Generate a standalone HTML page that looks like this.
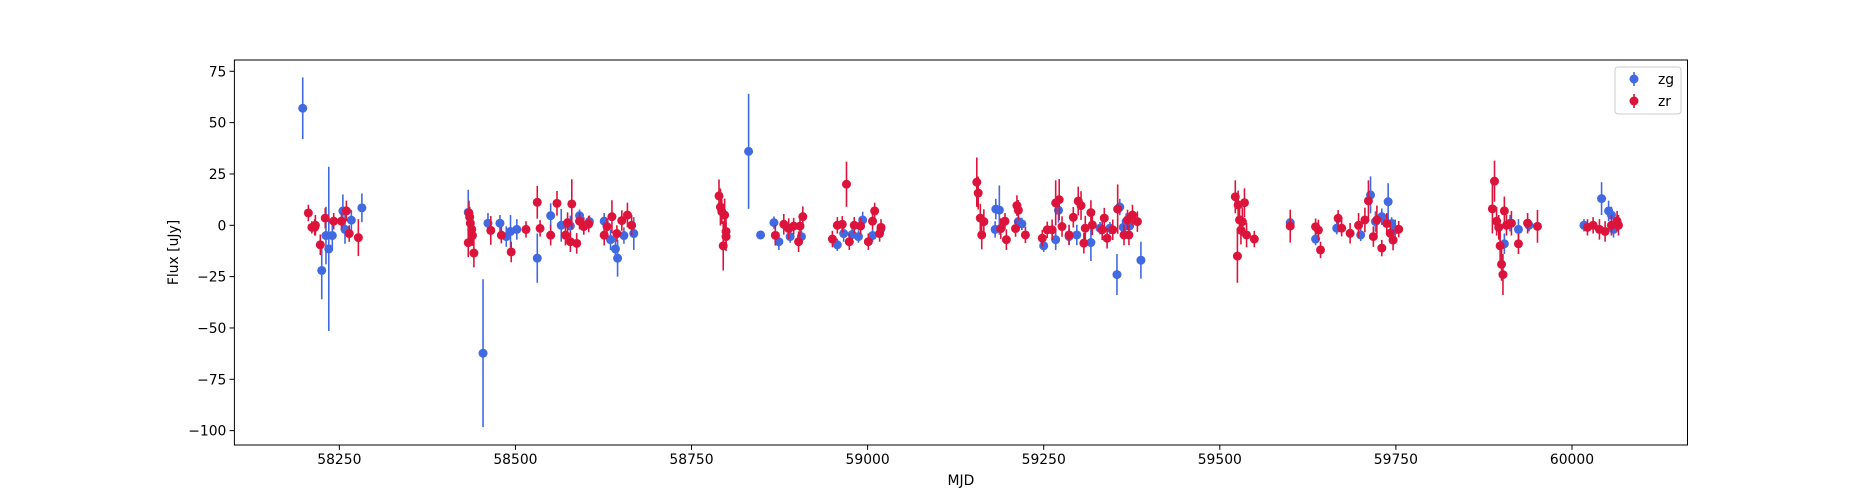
<!DOCTYPE html>
<html><head><meta charset="utf-8">
<style>
html,body{margin:0;padding:0;background:#fff;}
svg{display:block;font-family:"DejaVu Sans","Liberation Sans",sans-serif;}
</style></head>
<body>
<svg id="chart" width="1875" height="500" viewBox="0 0 1875 500" xmlns="http://www.w3.org/2000/svg">
<rect x="0" y="0" width="1875" height="500" fill="#fff"/>
<g id="plot"></g>
</svg>
<script>
const xTicks=[58250,58500,58750,59000,59250,59500,59750,60000];
const yTicks=[75,50,25,0,-25,-50,-75,-100];
const zgMjd=[58198,58225,58231,58235,58240,58255,58258,58267,58282,
58433,58454,58461,58478,58487,58493,58502,58531,58550,58565,58578,58591,58597,58605,58626,58635,58642,58645,58654,58668,
58831,58848,58867,58874,58890,58906,58957,58966,58978,58987,58993,59007,59019,
59181,59182,59187,59214,59219,59250,59267,59271,59286,59297,59317,59330,59344,59354,59358,59363,59367,59372,59388,
59600,59636,59666,59700,59714,59721,59730,59739,59744,59749,
59904,59912,59924,59939,60017,60042,60052,60056,60059,60064];
const zgFlux=[57,-22,-5,-11.5,-5,7,-2,2.5,8.5,
6.3,-62.3,1,1,-5.5,-3,-2,-16,4.7,0,-0.3,4.7,0,1.8,2,-7,-11.5,-16,-5,-4,
36,-4.7,1.3,-8,-5.5,-5.5,-9.5,-4,-4.5,-5.5,2.6,-5,-1.8,
-2,7.9,7.4,1.8,0.7,-10,-7,7.3,-5.5,-4.7,-8.4,-1.4,-1.4,-24,8.9,-1,1.8,-0.3,-17,
1.3,-6.7,-1.4,-4.7,14.8,1.8,4.2,11.5,0.9,-2.2,
-9,1,-2,0,0,13,7,5,-2,1];
const zgErr=[15,14,14,40,6,8,7,5,7,
11,36,5,4,5,8,5,12,6,8,5,3,4,3,4,5,6,9,4,8,
28,2,3,4,3,3,3,4,4,3,4,3,3,
4,5,12,3,3,3,5,6,4,5,9,3,3,10,4,3,4,3,9,
3,3,3,3,9,5,4,9,3,5,
5,4,5,3,3,8,5,4,4,4];
const zrMjd=[58206,58211,58215,58216,58223,58230,58242,58253,58260,58264,58277,
58433,58434,58435,58436,58438,58439,58441,58465,58480,58494,58515,58531,58535,58550,58559,58571,58574,58578,58580,58587,58591,58597,58604,58626,58630,58637,58644,58651,58659,58665,
58789,58791,58793,58795,58797,58799,58799,58869,58881,58888,58895,58902,58904,58908,
58950,58957,58964,58970,58974,58981,58990,59001,59007,59010,59017,59019,
59155,59157,59160,59162,59165,59189,59195,59197,59210,59212,59214,59224,
59248,59255,59262,59267,59272,59276,59286,59292,59299,59303,59307,59309,59317,59319,59333,59336,59340,59348,59355,59364,59369,59371,59376,59383,
59522,59525,59526,59528,59530,59532,59535,59538,59549,59600,59636,59640,59643,
59668,59673,59685,59697,59706,59711,59718,59723,59730,59737,59742,59746,59754,
59887,59890,59893,59896,59898,59900,59902,59904,59907,59914,59924,59937,59951,
60022,60030,60039,60047,60056,60064,60066];
const zrFlux=[6,-1,-1,0,-9.5,3.5,2,2,7,-4,-6,
-8.5,6,4,1,-2,-5,-13.5,-2.5,-4.8,-13,-2,11.2,-1.5,-4.8,10.7,-4.8,1.3,-8,10.4,-8.8,2,-0.6,0.6,-4.8,-0.6,4.2,-4,2.3,5,0,
14.3,8.9,6.6,-10,5,-3,-5.5,-4.9,0.5,-1.6,-0.4,-8,-0.4,4.2,
-6.7,0,0.5,20,-8,0,-0.4,-8,2,7,-4,-1,
21,15.7,3.5,-4.7,1.8,-1.6,2,-7,-1.6,9.6,7.3,-4.7,
-6.3,-2.2,-2.2,10.9,12.5,-0.6,-4.7,3.9,11.8,9.6,-8.7,-1.4,6.2,0.2,-2.2,3.5,-6.3,-2.2,7.9,-4.7,2.6,-4.7,5,1.8,
13.9,-15,9.9,2.6,-2.3,1.8,11,-4.7,-6.7,-0.4,-0.7,-2.3,-12,
3.4,-1.4,-3.9,0,2.6,11.9,-5.5,2.6,-11.1,0.9,-3.9,-7.2,-1.9,
8,21.5,2,-1,-10,-19,-24,7,0,1,-9,1,-0.5,
-1,0,-2,-3,0,2,0];
const zrErr=[4,3,4,5,5,5,4,4,5,4,9,
7,6,5,5,6,5,7,7,4,5,4,8,4,5,6,5,5,5,12,5,4,4,4,5,4,8,4,5,6,5,
8,9,6,12,8,6,7,5,5,5,4,5,5,5,
4,4,4,11,4,4,4,4,4,4,4,4,
12,8,7,7,6,5,4,5,4,5,5,4,
4,4,5,11,10,5,5,5,7,7,5,6,6,5,5,5,5,5,12,5,5,5,5,5,
8,13,7,7,7,7,7,6,4,8,4,5,4,
4,4,5,6,6,10,5,7,4,5,5,5,4,
12,10,7,6,7,8,10,7,5,6,5,5,8,
4,4,5,5,5,5,5];

const L=234.4,R=1687.5,T=60,B=445;
const xMin=58101,xMax=60164,yMin=-107,yMax=80.5;
const xs=v=>L+(v-xMin)/(xMax-xMin)*(R-L);
const ys=v=>B-(v-yMin)/(yMax-yMin)*(B-T);
const NS="http://www.w3.org/2000/svg";
const g=document.getElementById('plot');
function mk(tag,attrs){const e=document.createElementNS(NS,tag);for(const k in attrs)e.setAttribute(k,attrs[k]);return e;}

function series(mjd,flux,err,color,name){
  const grp=mk('g',{});
  
  
  for(let i=0;i<mjd.length;i++){
    const x=xs(mjd[i]);
    const l=mk('line',{x1:x,x2:x,y1:ys(flux[i]+err[i]),y2:ys(flux[i]-err[i]),stroke:color,'stroke-width':1.6});
    
    
    grp.appendChild(l);
  }
  for(let i=0;i<mjd.length;i++){
    const c=mk('circle',{cx:xs(mjd[i]),cy:ys(flux[i]),r:4.5,fill:color});
    
    
    grp.appendChild(c);
  }
  g.appendChild(grp);
}
series(zgMjd,zgFlux,zgErr,'#4169e1','zg');
series(zrMjd,zrFlux,zrErr,'#dc143c','zr');

const frame=mk('rect',{x:L,y:T,width:R-L,height:B-T,fill:'none',stroke:'#000','stroke-width':1});


g.appendChild(frame);

xTicks.forEach(v=>{
  const x=xs(v);
  const t=mk('line',{x1:x,x2:x,y1:B,y2:B+4.9,stroke:'#000','stroke-width':1});
  
  
  g.appendChild(t);
  const tx=mk('text',{x:x,y:B+19,'text-anchor':'middle','font-size':'13.9px',fill:'#000'});
  
  
  tx.textContent=String(v);
  g.appendChild(tx);
});
yTicks.forEach(v=>{
  const y=ys(v);
  const t=mk('line',{x1:L-4.9,x2:L,y1:y,y2:y,stroke:'#000','stroke-width':1});
  
  
  g.appendChild(t);
  const tx=mk('text',{x:L-8,y:y+5,'text-anchor':'end','font-size':'13.9px',fill:'#000'});
  
  
  tx.textContent=String(v).replace('-','\u2212');
  g.appendChild(tx);
});
const xl=mk('text',{x:(L+R)/2,y:485,'text-anchor':'middle','font-size':'13.9px',fill:'#000'});


xl.textContent='MJD';g.appendChild(xl);
const yl=mk('text',{x:0,y:0,'text-anchor':'middle','font-size':'13.9px',fill:'#000',transform:`translate(178,${(T+B)/2}) rotate(-90)`});


yl.textContent='Flux [uJy]';g.appendChild(yl);

// legend
const lg=mk('g',{});


const box=mk('rect',{x:1615,y:67,width:66,height:47,rx:3,fill:'#fff',stroke:'#ccc','stroke-width':1,'fill-opacity':0.8});


lg.appendChild(box);
[['zg','#4169e1',79],['zr','#dc143c',101]].forEach(([n,c,y])=>{
  const e=mk('g',{});
  
  
  e.appendChild(mk('line',{x1:1634,x2:1634,y1:y-7,y2:y+7,stroke:c,'stroke-width':1.6}));
  e.appendChild(mk('circle',{cx:1634,cy:y,r:4.5,fill:c}));
  const t=mk('text',{x:1658,y:y+5,'font-size':'13.9px',fill:'#000'});
  t.textContent=n;e.appendChild(t);
  lg.appendChild(e);
});
g.appendChild(lg);
</script>
</body></html>
